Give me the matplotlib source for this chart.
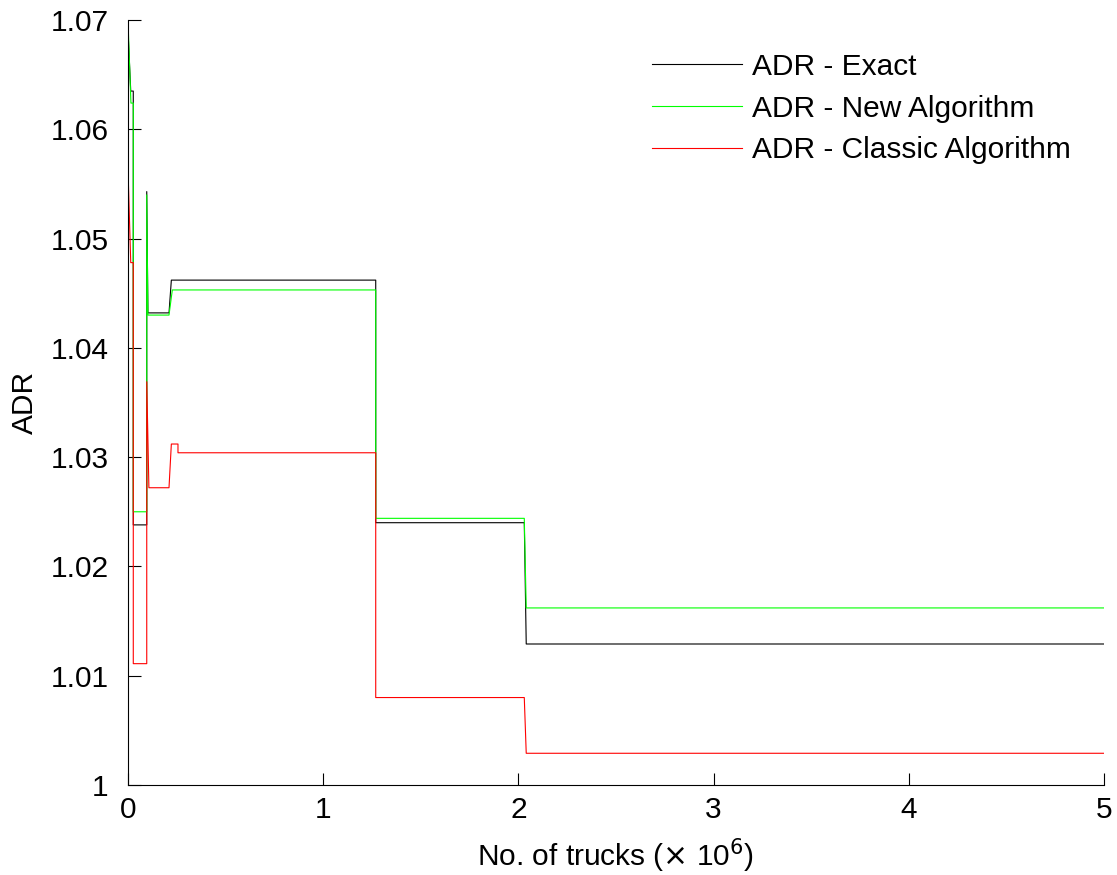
import matplotlib.pyplot as plt

plt.rcParams['font.family'] = ['Liberation Sans', 'DejaVu Sans']

# x in units of 10^6 trucks
exact_x = [0, 0.014, 0.027, 0.027, 0.096, 0.096, 0.102, 0.210, 0.222, 1.269, 1.269, 2.030, 2.040, 5.0]
exact_y = [1.0690, 1.0635, 1.0635, 1.0238, 1.0238, 1.0543, 1.0432, 1.0432, 1.0462, 1.0462, 1.0240, 1.0240, 1.0129, 1.0129]

new_x = [0, 0.015, 0.027, 0.027, 0.096, 0.096, 0.102, 0.210, 0.227, 1.269, 1.269, 2.030, 2.040, 5.0]
new_y = [1.0699, 1.0624, 1.0624, 1.0250, 1.0250, 1.0540, 1.0430, 1.0430, 1.0453, 1.0453, 1.0244, 1.0244, 1.0162, 1.0162]

classic_x = [0, 0.014, 0.027, 0.027, 0.096, 0.096, 0.107, 0.210, 0.222, 0.256, 0.256, 1.269, 1.269, 2.030, 2.040, 5.0]
classic_y = [1.0563, 1.0478, 1.0478, 1.0111, 1.0111, 1.0369, 1.0272, 1.0272, 1.0312, 1.0312, 1.0304, 1.0304, 1.0080, 1.0080, 1.0029, 1.0029]

xticks = [0, 1, 2, 3, 4, 5]
yticks = [1.00, 1.01, 1.02, 1.03, 1.04, 1.05, 1.06, 1.07]
ytick_labels = ['1', '1.01', '1.02', '1.03', '1.04', '1.05', '1.06', '1.07']

fs = 21.5

fig = plt.figure(figsize=(11.17, 8.75), dpi=100)
ax = fig.add_axes([0.1146, 0.1029, 0.8738, 0.8742])

ax.plot(exact_x, exact_y, color='k', lw=0.8, label='ADR - Exact')
ax.plot(new_x, new_y, color=(0, 1, 0), lw=0.8, label='ADR - New Algorithm')
ax.plot(classic_x, classic_y, color=(1, 0, 0), lw=0.8, label='ADR - Classic Algorithm')

ax.set_xlim(0, 5)
ax.set_ylim(1.0, 1.07)
ax.set_xticks(xticks)
ax.set_xticklabels([str(t) for t in xticks])
ax.set_yticks(yticks)
ax.set_yticklabels(ytick_labels)
ax.tick_params(direction='in', length=9, width=0.8, labelsize=fs)
ax.tick_params(axis='y', pad=14)
ax.tick_params(axis='x', pad=8)
ax.spines['top'].set_visible(False)
ax.spines['right'].set_visible(False)
for s in ['left', 'bottom']:
    ax.spines[s].set_linewidth(0.8)

ax.set_xlabel(r'No. of trucks ($\times$ 10$^6$)', fontsize=fs, labelpad=9)
ax.set_ylabel('ADR', fontsize=fs, labelpad=8)

ax.legend(loc='upper left', frameon=False, fontsize=fs, handlelength=3.0,
          handletextpad=0.33, labelspacing=0.46, borderpad=0, borderaxespad=0,
          bbox_to_anchor=(0.537, 0.957))

fig.savefig('out.png', dpi=100)
